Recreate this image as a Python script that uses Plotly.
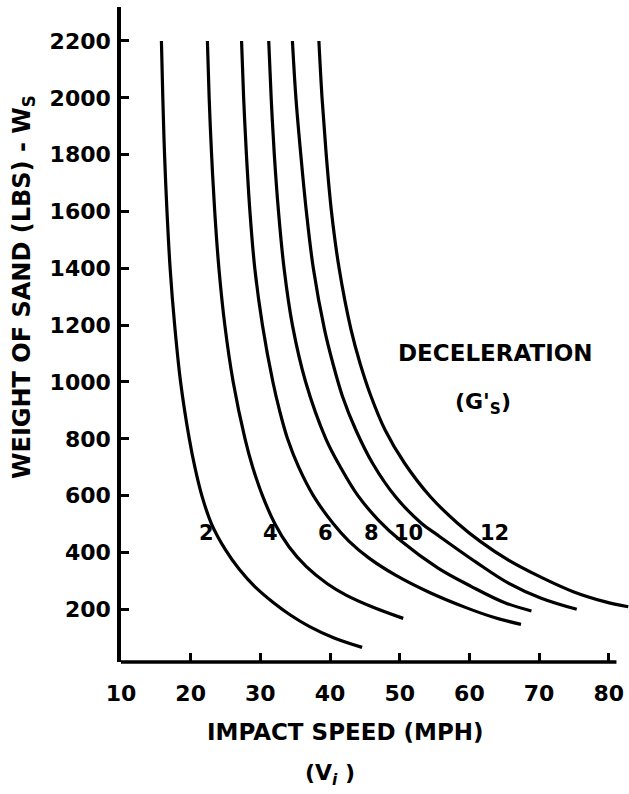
import plotly.graph_objects as go

# ---- data ----
x_ticks = [10, 20, 30, 40, 50, 60, 70, 80]
y_ticks = [200, 400, 600, 800, 1000, 1200, 1400, 1600, 1800, 2000, 2200]

g2_v = [15.8, 16.0, 16.25, 16.6, 17.05, 17.7, 18.55, 19.8, 20.6, 21.6, 23.0, 25.0, 27.0, 29.2, 31.8, 34.3, 37.0, 40.5, 44.6]
g2_w = [2200, 2000, 1800, 1600, 1400, 1200, 1000, 800, 700, 600, 500, 409, 340, 280, 225, 180, 140, 100, 66]

g4_v = [22.4, 22.65, 23.0, 23.45, 24.05, 24.9, 26.1, 27.8, 28.9, 30.3, 32.1, 34.1, 36.6, 39.6, 42.3, 46.0, 50.5]
g4_w = [2200, 2000, 1800, 1600, 1400, 1200, 1000, 800, 700, 600, 500, 420, 350, 290, 250, 209, 168]

g6_v = [27.3, 27.6, 28.0, 28.5, 29.2, 30.3, 31.8, 32.75, 33.9, 35.5, 37.6, 40.5, 42.7, 45.6, 49.4, 54.2, 59.6, 63.7, 67.4]
g6_w = [2200, 2000, 1800, 1600, 1400, 1200, 1000, 900, 800, 700, 600, 500, 440, 380, 320, 260, 205, 170, 147]

g8_v = [31.2, 31.55, 32.0, 32.6, 33.4, 34.6, 36.5, 39.4, 41.5, 44.0, 46.9, 50.2, 55.5, 60.3, 65.0, 68.9]
g8_w = [2200, 2000, 1800, 1600, 1400, 1200, 1000, 800, 700, 600, 515, 440, 345, 280, 224, 194]

g10_v = [34.6, 35.1, 35.8, 36.6, 37.6, 39.2, 40.4, 41.8, 43.7, 46.1, 49.4, 53.1, 55.5, 61.0, 65.6, 70.3, 75.4]
g10_w = [2200, 2000, 1800, 1600, 1400, 1185, 1066, 948, 831, 714, 596, 503, 460, 365, 292, 239, 200]

g12_v = [38.4, 38.85, 39.45, 40.2, 41.3, 43.0, 44.3, 45.9, 47.9, 50.7, 54.4, 58.3, 61.5, 65.6, 70.1, 74.9, 79.4, 82.8]
g12_w = [2200, 2000, 1800, 1600, 1400, 1185, 1066, 948, 831, 714, 596, 503, 440, 373, 315, 262, 227, 209]

curve_labels = ["2", "4", "6", "8", "10", "12"]
label_v = [22.3, 31.4, 39.3, 46.0, 51.3, 63.6]
label_w = [468, 468, 468, 468, 468, 468]

curves = [(g2_v, g2_w), (g4_v, g4_w), (g6_v, g6_w), (g8_v, g8_w), (g10_v, g10_w), (g12_v, g12_w)]

FONT = "DejaVu Sans"
fig = go.Figure()
for v, w in curves:
    fig.add_trace(go.Scatter(x=v, y=w, mode="lines",
                             line=dict(color="black", width=3.2, shape="spline", smoothing=1.0),
                             showlegend=False, hoverinfo="skip"))

for t, v, w in zip(curve_labels, label_v, label_w):
    fig.add_annotation(x=v, y=w, xref="x", yref="y", text=t, showarrow=False,
                       font=dict(family=FONT, size=21, color="black", weight="bold"))

fig.add_annotation(x=63.7, y=1102, xref="x", yref="y", text="DECELERATION", showarrow=False,
                   font=dict(family=FONT, size=23, color="black", weight="bold"))
fig.add_annotation(x=61.9, y=925, xref="x", yref="y", text="(G'<sub>S</sub>)", showarrow=False,
                   font=dict(family=FONT, size=22, color="black", weight="bold"))

fig.add_annotation(x=0.441, y=-0.107, xref="paper", yref="paper", text="IMPACT SPEED (MPH)", showarrow=False,
                   xanchor="center", yanchor="middle",
                   font=dict(family=FONT, size=23, color="black", weight="bold"))
fig.add_annotation(x=0.411, y=-0.172, xref="paper", yref="paper", text="(V<sub><i>i</i></sub> )", showarrow=False,
                   xanchor="center", yanchor="middle",
                   font=dict(family=FONT, size=22, color="black", weight="bold"))
fig.add_annotation(x=-0.193, y=0.5725, xref="paper", yref="paper", text="WEIGHT OF SAND (LBS) - W<sub>S</sub>",
                   showarrow=False, textangle=-90, xanchor="center", yanchor="middle",
                   font=dict(family=FONT, size=24, color="black", weight="bold"))

# x-axis baseline (drawn only to the end of the scale; curves may run past it)
fig.add_shape(type="line", xref="x", yref="paper", x0=10, x1=81.1, y0=0, y1=0,
              line=dict(color="black", width=3.5))

fig.update_xaxes(range=[10, 82.9], tickvals=x_ticks, ticktext=[str(t) for t in x_ticks],
                 ticks="inside", ticklen=9, tickwidth=3, tickcolor="black",
                 showline=False, showgrid=False, zeroline=False, ticklabelstandoff=16,
                 tickfont=dict(family=FONT, size=22, color="black", weight="bold"))
fig.update_yaxes(range=[14.5, 2319.6], tickvals=y_ticks, ticktext=[str(t) for t in y_ticks],
                 ticks="inside", ticklen=8, tickwidth=3, tickcolor="black",
                 showline=True, linewidth=3.5, linecolor="black", showgrid=False, zeroline=False,
                 ticklabelstandoff=2,
                 tickfont=dict(family=FONT, size=22, color="black", weight="bold"))

fig.update_layout(width=629, height=794, margin=dict(l=121, r=0, t=7, b=132),
                  plot_bgcolor="white", paper_bgcolor="white")

fig.write_html("out.html")
